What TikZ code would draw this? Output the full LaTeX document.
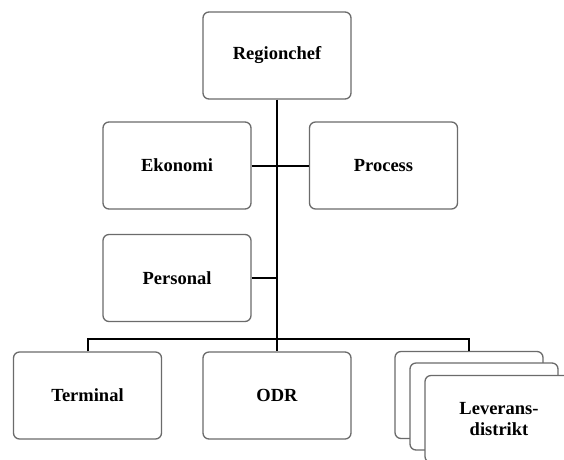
\documentclass[tikz,border=0pt]{standalone}
\usepackage{fontspec}
\setmainfont{Liberation Serif}
\begin{document}
\begin{tikzpicture}[x=1pt,y=-1pt,
  box/.style={draw=black!58, line width=1.3pt, rounded corners=6pt, fill=white,
    minimum width=148pt, minimum height=87pt, inner sep=2pt, align=center,
    font=\fontsize{18.5}{20.5}\selectfont\bfseries},
  conn/.style={draw=black, line width=2pt}]
\useasboundingbox (0,0) rectangle (564,459);
\clip (0,0) rectangle (564,459);
\fill[white] (0,0) rectangle (564,459);
\node[box] (reg) at (277,55.5) {Regionchef};
\node[box] (eko) at (177,165.5) {Ekonomi};
\node[box] (pro) at (383.5,165.5) {Process};
\node[box] (per) at (177,278) {Personal};
\node[box] (ter) at (87.5,395.5) {Terminal};
\node[box] (odr) at (277,395.5) {ODR};
\coordinate (bar) at (277,339);
\draw[conn] (reg.south) -- (odr.north);
\draw[conn] (eko.east) -- (pro.west);
\draw[conn] (per.east) -- (per.east -| reg.south);
\node[box] (lev1) at (469,395) {};
\draw[conn] (ter.north) |- (bar) -| (lev1.north);
\node[box] (lev2) at (484,406.5) {};
\node[box] (lev3) at (499,419) {Leverans-\\distrikt};
\end{tikzpicture}
\end{document}
